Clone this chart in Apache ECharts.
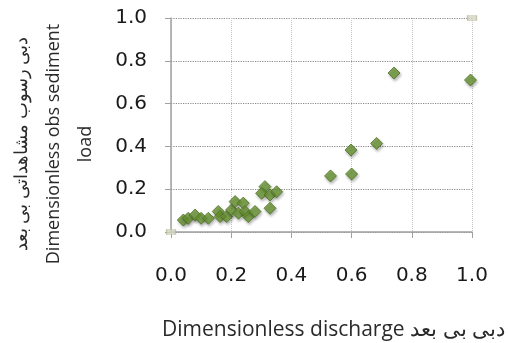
<!DOCTYPE html>
<html><head><meta charset="utf-8">
<script src="https://cdn.jsdelivr.net/npm/echarts@6/dist/echarts.min.js"></script>
<style>html,body{margin:0;padding:0;background:#fff}#c{width:508px;height:343px}</style>
</head><body><div id="c"></div>
<script>
const xValues = [0.041,0.057,0.080,0.100,0.124,0.157,0.163,0.185,0.201,0.213,0.240,0.224,0.246,0.257,0.279,0.312,0.301,0.329,0.351,0.329,0.530,0.598,0.600,0.683,0.741,0.995];
const yValues = [0.056,0.064,0.079,0.064,0.064,0.096,0.072,0.072,0.103,0.142,0.135,0.088,0.096,0.072,0.096,0.212,0.181,0.173,0.188,0.111,0.262,0.383,0.271,0.414,0.743,0.710];
const refX = [0, 1];
const refY = [0, 1];
const xTicks = ['0.0','0.2','0.4','0.6','0.8','1.0'];
const yTicks = ['0.0','0.2','0.4','0.6','0.8','1.0'];
const xName = 'Dimensionless discharge دبی بی بعد';
const yName = 'دبی رسوب مشاهداتی بی بعد\nDimensionless obs sediment\nload';

const chart = echarts.init(document.getElementById('c'));
const pts = xValues.map((x,i)=>[x,yValues[i]]);
const ref = refX.map((x,i)=>[x,refY[i]]);
chart.setOption({
  animation:false,
  grid:{left:171,right:36,top:18,bottom:111,containLabel:false,outerBoundsMode:'none'},
  xAxis:{type:'value',min:0,max:1,interval:0.2,
    axisLine:{lineStyle:{color:'#a0a0a0',width:1.5}},
    axisTick:{show:true,length:6,lineStyle:{color:'#a0a0a0'}},
    splitLine:{show:true,lineStyle:{type:'dotted',color:'#c4c4c4'}},
    axisLabel:{fontFamily:'DejaVu Sans',fontSize:20,color:'#1a1a1a',margin:34,
      formatter:(v)=>xTicks[Math.round(v*5)]},
    name:xName,nameLocation:'middle',nameGap:88,
    nameTextStyle:{fontFamily:'Open Sans',fontSize:21,color:'#2a2a2a',padding:[0,0,0,24]}
  },
  yAxis:{type:'value',min:0,max:1,interval:0.2,
    axisLine:{show:true,lineStyle:{color:'#a0a0a0',width:1.5}},
    axisTick:{show:true,length:6,lineStyle:{color:'#a0a0a0'}},
    splitLine:{show:true,lineStyle:{type:'dotted',color:'#8a8a8a',width:1.2}},
    axisLabel:{fontFamily:'DejaVu Sans',fontSize:20,color:'#1a1a1a',margin:24,
      formatter:(v)=>yTicks[Math.round(v*5)]},
    name:yName,nameLocation:'middle',nameGap:69,nameRotate:90,
    nameTextStyle:{fontFamily:'Open Sans',fontSize:18,color:'#2a2a2a',lineHeight:32,padding:[0,38,0,0]}
  },
  series:[
    {type:'scatter',data:ref,symbol:'rect',symbolSize:[9,5],
      itemStyle:{color:'#d6d6c4',borderColor:'#b8b89c',borderWidth:1}},
    {type:'scatter',data:pts,symbol:'diamond',symbolSize:12,
      itemStyle:{color:'#6a9632',borderColor:'#4a7020',borderWidth:1,
        shadowBlur:3,shadowColor:'rgba(0,0,0,0.35)',shadowOffsetX:1,shadowOffsetY:2}}
  ]
});
</script></body></html>
